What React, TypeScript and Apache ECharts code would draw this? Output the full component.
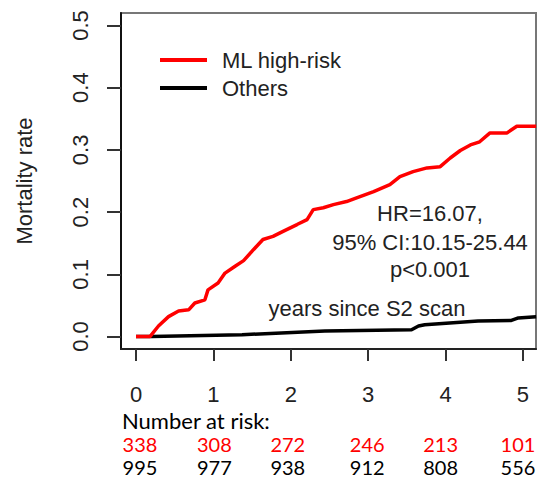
import React, { useEffect, useRef } from "react";
import * as echarts from "echarts";

const years = [0, 1, 2, 3, 4, 5];
const yTicks = [0, 0.1, 0.2, 0.3, 0.4, 0.5];
const riskHigh = [338, 308, 272, 246, 213, 101];
const riskOthers = [995, 977, 938, 912, 808, 556];

const highRiskCurve: [number, number][] = [
  [0, 0], [0.18, 0], [0.29, 0.017], [0.42, 0.032], [0.55, 0.041], [0.68, 0.043],
  [0.76, 0.054], [0.89, 0.059], [0.93, 0.075], [1.06, 0.086], [1.15, 0.102],
  [1.28, 0.113], [1.39, 0.122], [1.52, 0.14], [1.64, 0.156], [1.77, 0.161],
  [1.9, 0.169], [2.08, 0.18], [2.21, 0.188], [2.29, 0.204], [2.42, 0.207],
  [2.55, 0.212], [2.72, 0.217], [2.85, 0.223], [3.07, 0.233], [3.28, 0.244],
  [3.41, 0.257], [3.58, 0.265], [3.76, 0.271], [3.93, 0.273], [4.06, 0.287],
  [4.19, 0.299], [4.32, 0.308], [4.44, 0.313], [4.57, 0.327], [4.79, 0.327],
  [4.92, 0.338], [5.17, 0.338],
];

const othersCurve: [number, number][] = [
  [0, 0], [0.2, 0], [1.37, 0.003], [2.44, 0.009], [3.56, 0.011], [3.65, 0.017],
  [3.73, 0.019], [4.42, 0.025], [4.85, 0.026], [4.94, 0.03], [5.17, 0.032],
];

const annotations = ["HR=16.07,", "95% CI:10.15-25.44", "p<0.001"];
const xTitle = "years since S2 scan";

const ARIAL = "'Liberation Sans', Arial, sans-serif";
const CALIBRI = "Lato, 'Open Sans', sans-serif";

export default function App() {
  const ref = useRef<HTMLDivElement>(null);
  useEffect(() => {
    if (!ref.current) return;
    const chart = echarts.init(ref.current, undefined, { renderer: "svg" });
    chart.setOption({
      animation: false,
      grid: {
        left: 121, top: 13, right: 1, bottom: 131,
        show: true, borderColor: "#777", borderWidth: 2,
      },
      legend: {
        data: ["ML high-risk", "Others"],
        orient: "vertical",
        left: 155,
        top: 44,
        icon: "rect",
        itemWidth: 47,
        itemHeight: 4,
        itemGap: 6,
        textStyle: {
          fontFamily: ARIAL, fontSize: 22, color: "#222", lineHeight: 22,
          padding: [0, 0, 0, 10],
        },
      },
      xAxis: {
        type: "value",
        min: -0.194,
        max: 5.168,
        splitLine: { show: false },
        axisLine: { show: true, onZero: false, lineStyle: { color: "#222", width: 2 } },
        axisTick: { show: true, customValues: years, length: 12, lineStyle: { color: "#333", width: 2 } },
        axisLabel: {
          customValues: years, margin: 34, fontFamily: ARIAL, fontSize: 22, color: "#222",
          formatter: (v: number) => String(v),
        },
      },
      yAxis: {
        type: "value",
        min: -0.02,
        max: 0.52,
        name: "Mortality rate",
        nameLocation: "middle",
        nameRotate: 90,
        nameGap: 86,
        nameTextStyle: { fontFamily: ARIAL, fontSize: 22, color: "#222" },
        splitLine: { show: false },
        axisLine: { show: true, onZero: false, lineStyle: { color: "#111", width: 2 } },
        axisTick: { show: true, customValues: yTicks, length: 14, lineStyle: { color: "#333", width: 2 } },
        axisLabel: {
          customValues: yTicks, margin: 30, rotate: 90, align: "center", verticalAlign: "bottom",
          fontFamily: ARIAL, fontSize: 22, color: "#222",
          formatter: (v: number) => v.toFixed(1),
        },
      },
      series: [
        {
          name: "Others", type: "line", data: othersCurve, symbol: "none", showSymbol: false,
          lineStyle: { color: "#000", width: 3.5 }, itemStyle: { color: "#000" }, clip: true,
        },
        {
          name: "ML high-risk", type: "line", data: highRiskCurve, symbol: "none", showSymbol: false,
          lineStyle: { color: "#ff0000", width: 3.5 }, itemStyle: { color: "#ff0000" }, clip: true,
        },
      ],
    });

    const xs = years.map((y) => chart.convertToPixel({ xAxisIndex: 0 }, y) as number);
    const annY = [213, 242, 269];
    const graphic: any[] = [];
    annotations.forEach((t, i) => {
      graphic.push({
        type: "text", x: 430, y: annY[i],
        style: { text: t, fontFamily: ARIAL, fontSize: 22, fill: "#222", align: "center", verticalAlign: "middle" },
      });
    });
    graphic.push({
      type: "text", x: 367, y: 308,
      style: { text: xTitle, fontFamily: ARIAL, fontSize: 22, fill: "#222", align: "center", verticalAlign: "middle" },
    });
    graphic.push({
      type: "text", x: 122, y: 420,
      style: { text: "Number at risk:", fontFamily: CALIBRI, fontSize: 22, fill: "#000", align: "left", verticalAlign: "middle" },
    });
    const shift = [4, 1, -3, -1, -5, -5];
    xs.forEach((x, i) => {
      const cx = x + shift[i];
      graphic.push({
        type: "text", x: cx, y: 444,
        style: { text: String(riskHigh[i]), fontFamily: CALIBRI, fontSize: 20, fill: "#ff0000", align: "center", verticalAlign: "middle" },
      });
      graphic.push({
        type: "text", x: cx, y: 467,
        style: { text: String(riskOthers[i]), fontFamily: CALIBRI, fontSize: 20, fill: "#000", align: "center", verticalAlign: "middle" },
      });
    });
    chart.setOption({ graphic });

    return () => chart.dispose();
  }, []);
  return <div ref={ref} style={{ position: "absolute", left: 0, top: 0, width: 537, height: 480 }} />;
}
